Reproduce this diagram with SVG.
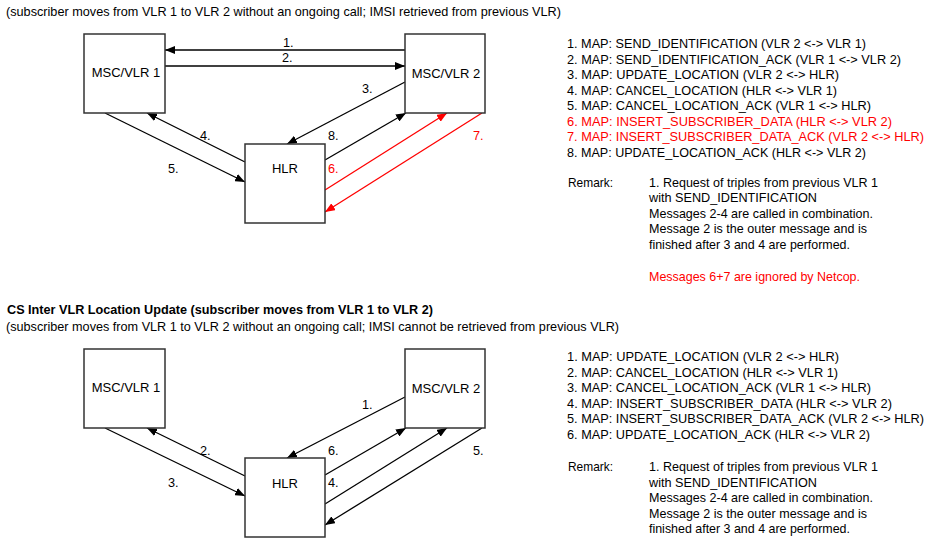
<svg xmlns="http://www.w3.org/2000/svg" width="942" height="559" viewBox="0 0 942 559">
<defs>
<marker id="ah" viewBox="0 0 10 8" refX="10" refY="4" markerWidth="10" markerHeight="8" markerUnits="userSpaceOnUse" orient="auto"><path d="M0,0 L10,4 L0,8 z" fill="#000"/></marker>
<marker id="ahr" viewBox="0 0 10 8" refX="10" refY="4" markerWidth="10" markerHeight="8" markerUnits="userSpaceOnUse" orient="auto"><path d="M0,0 L10,4 L0,8 z" fill="#ff0000"/></marker>
<style>
text{font-family:"Liberation Sans",Arial,sans-serif;font-size:12.7px;fill:#000}
.h{font-weight:bold;font-size:13px}
.r{fill:#ff0000}
.n{font-size:13px;text-anchor:middle}
.box{fill:#fff;stroke:#333;stroke-width:1.5}
.c{stroke:#000;stroke-width:1.3;fill:none;marker-end:url(#ah)}
.cr{stroke:#ff0000;stroke-width:1.3;fill:none;marker-end:url(#ahr)}
</style>
</defs>
<rect width="942" height="559" fill="#fff"/>

<text x="6" y="15.5" textLength="555" lengthAdjust="spacingAndGlyphs">(subscriber moves from VLR 1 to VLR 2 without an ongoing call; IMSI retrieved from previous VLR)</text>

<g id="top-connectors">
<path class="c" d="M405,50 L165,50"/>
<path class="c" d="M165,66 L405,66"/>
<path class="c" d="M405,82 L287,144"/>
<path class="c" d="M245,162 L147,113"/>
<path class="c" d="M105,113 L245,182"/>
<path class="c" d="M325,160 L406,113"/>
<path class="cr" d="M325,190 L447,113"/>
<path class="cr" d="M482,113 L325,212"/>
<text x="283" y="47">1.</text>
<text x="282" y="62">2.</text>
<text x="362" y="93">3.</text>
<text x="200" y="140">4.</text>
<text x="168" y="173">5.</text>
<text x="328" y="140">8.</text>
<text class="r" x="328" y="173">6.</text>
<text class="r" x="473" y="140">7.</text>
</g>

<g id="top-msc1"><rect class="box" x="84" y="34" width="81" height="79"/><text class="n" x="126" y="77">MSC/VLR 1</text></g>
<g id="top-msc2"><rect class="box" x="405" y="34" width="80" height="79"/><text class="n" x="446" y="78">MSC/VLR 2</text></g>
<g id="top-hlr"><rect class="box" x="245" y="144" width="80" height="79"/><text class="n" x="285" y="173">HLR</text></g>

<g id="top-list">
<text x="567" y="48" textLength="299" lengthAdjust="spacingAndGlyphs">1. MAP: SEND_IDENTIFICATION (VLR 2 &lt;-&gt; VLR 1)</text>
<text x="567" y="63.5" textLength="334" lengthAdjust="spacingAndGlyphs">2. MAP: SEND_IDENTIFICATION_ACK (VLR 1 &lt;-&gt; VLR 2)</text>
<text x="567" y="79" textLength="272" lengthAdjust="spacingAndGlyphs">3. MAP: UPDATE_LOCATION (VLR 2 &lt;-&gt; HLR)</text>
<text x="567" y="94.5" textLength="270" lengthAdjust="spacingAndGlyphs">4. MAP: CANCEL_LOCATION (HLR &lt;-&gt; VLR 1)</text>
<text x="567" y="110" textLength="304" lengthAdjust="spacingAndGlyphs">5. MAP: CANCEL_LOCATION_ACK (VLR 1 &lt;-&gt; HLR)</text>
<text class="r" x="567" y="125.5" textLength="325" lengthAdjust="spacingAndGlyphs">6. MAP: INSERT_SUBSCRIBER_DATA (HLR &lt;-&gt; VLR 2)</text>
<text class="r" x="567" y="141" textLength="357" lengthAdjust="spacingAndGlyphs">7. MAP: INSERT_SUBSCRIBER_DATA_ACK (VLR 2 &lt;-&gt; HLR)</text>
<text x="567" y="156.5" textLength="299" lengthAdjust="spacingAndGlyphs">8. MAP: UPDATE_LOCATION_ACK (HLR &lt;-&gt; VLR 2)</text>
<text x="568" y="186.5" textLength="45" lengthAdjust="spacingAndGlyphs">Remark:</text>
<text x="649" y="186.5" textLength="229" lengthAdjust="spacingAndGlyphs">1. Request of triples from previous VLR 1</text>
<text x="649" y="202" textLength="168" lengthAdjust="spacingAndGlyphs">with SEND_IDENTIFICATION</text>
<text x="649" y="217.5" textLength="224" lengthAdjust="spacingAndGlyphs">Messages 2-4 are called in combination.</text>
<text x="649" y="233" textLength="218" lengthAdjust="spacingAndGlyphs">Message 2 is the outer message and is</text>
<text x="649" y="248.5" textLength="201" lengthAdjust="spacingAndGlyphs">finished after 3 and 4 are performed.</text>
<text class="r" x="649" y="280.5" textLength="211" lengthAdjust="spacingAndGlyphs">Messages 6+7 are ignored by Netcop.</text>
</g>

<text class="h" x="7" y="314" textLength="426" lengthAdjust="spacingAndGlyphs">CS Inter VLR Location Update (subscriber moves from VLR 1 to VLR 2)</text>
<text x="6" y="331" textLength="613" lengthAdjust="spacingAndGlyphs">(subscriber moves from VLR 1 to VLR 2 without an ongoing call; IMSI cannot be retrieved from previous VLR)</text>

<g id="bottom-connectors">
<path class="c" d="M405,397 L287,458"/>
<path class="c" d="M245,476 L147,428"/>
<path class="c" d="M105,428 L245,496"/>
<path class="c" d="M325,475 L406,428"/>
<path class="c" d="M325,504 L447,428"/>
<path class="c" d="M482,428 L325,525"/>
<text x="362" y="409">1.</text>
<text x="200" y="455">2.</text>
<text x="168" y="487">3.</text>
<text x="328" y="455">6.</text>
<text x="328" y="487">4.</text>
<text x="473" y="455">5.</text>
</g>

<g id="bottom-msc1"><rect class="box" x="84" y="349" width="81" height="79"/><text class="n" x="126" y="392">MSC/VLR 1</text></g>
<g id="bottom-msc2"><rect class="box" x="405" y="349" width="80" height="79"/><text class="n" x="446" y="393">MSC/VLR 2</text></g>
<g id="bottom-hlr"><rect class="box" x="245" y="458" width="80" height="79"/><text class="n" x="285" y="488">HLR</text></g>

<g id="bottom-list">
<text x="567" y="361" textLength="272" lengthAdjust="spacingAndGlyphs">1. MAP: UPDATE_LOCATION (VLR 2 &lt;-&gt; HLR)</text>
<text x="567" y="376.5" textLength="271" lengthAdjust="spacingAndGlyphs">2. MAP: CANCEL_LOCATION (HLR &lt;-&gt; VLR 1)</text>
<text x="567" y="392" textLength="304" lengthAdjust="spacingAndGlyphs">3. MAP: CANCEL_LOCATION_ACK (VLR 1 &lt;-&gt; HLR)</text>
<text x="567" y="407.5" textLength="325" lengthAdjust="spacingAndGlyphs">4. MAP: INSERT_SUBSCRIBER_DATA (HLR &lt;-&gt; VLR 2)</text>
<text x="567" y="423" textLength="357" lengthAdjust="spacingAndGlyphs">5. MAP: INSERT_SUBSCRIBER_DATA_ACK (VLR 2 &lt;-&gt; HLR)</text>
<text x="567" y="438.5" textLength="303" lengthAdjust="spacingAndGlyphs">6. MAP: UPDATE_LOCATION_ACK (HLR &lt;-&gt; VLR 2)</text>
<text x="568" y="471" textLength="45" lengthAdjust="spacingAndGlyphs">Remark:</text>
<text x="649" y="471" textLength="229" lengthAdjust="spacingAndGlyphs">1. Request of triples from previous VLR 1</text>
<text x="649" y="486.5" textLength="168" lengthAdjust="spacingAndGlyphs">with SEND_IDENTIFICATION</text>
<text x="649" y="502" textLength="224" lengthAdjust="spacingAndGlyphs">Messages 2-4 are called in combination.</text>
<text x="649" y="517.5" textLength="218" lengthAdjust="spacingAndGlyphs">Message 2 is the outer message and is</text>
<text x="649" y="533" textLength="201" lengthAdjust="spacingAndGlyphs">finished after 3 and 4 are performed.</text>
</g>
</svg>
